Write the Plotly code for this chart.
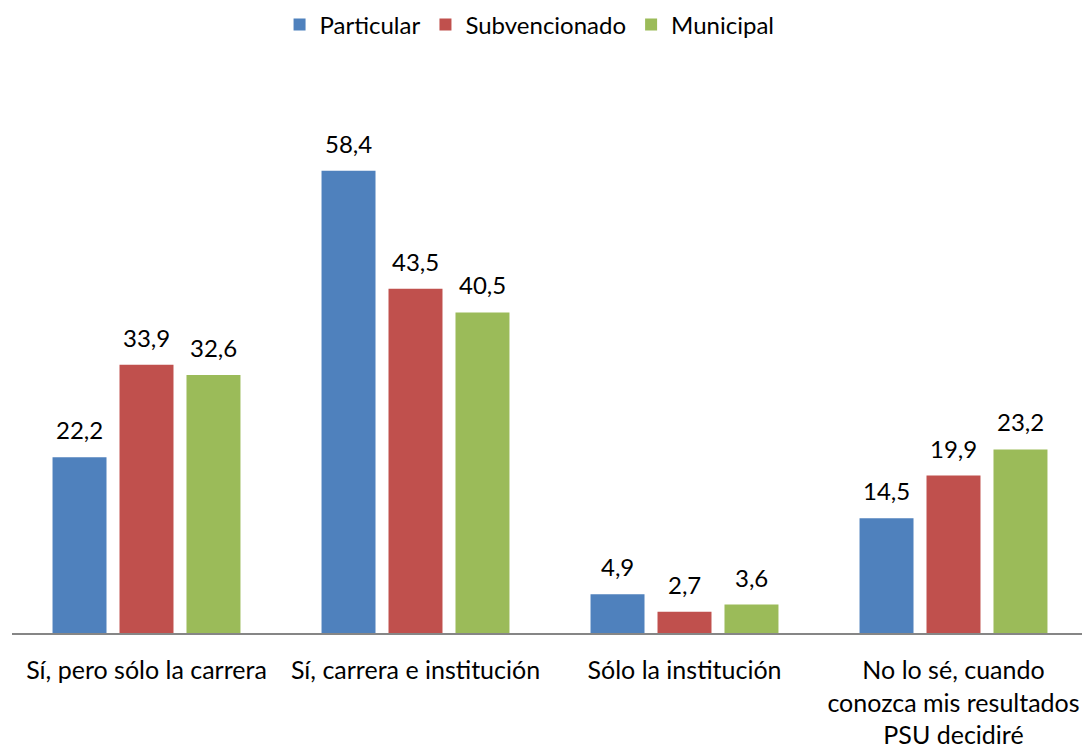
import plotly.graph_objects as go

categories = ["Sí, pero sólo la carrera", "Sí, carrera e institución", "Sólo la institución",
              "No lo sé, cuando<br>conozca mis resultados<br>PSU decidiré"]
series_names = ["Particular", "Subvencionado", "Municipal"]
particular = [22.2, 58.4, 4.9, 14.5]
subvencionado = [33.9, 43.5, 2.7, 19.9]
municipal = [32.6, 40.5, 3.6, 23.2]
colors = ["#4F81BD", "#C0504D", "#9BBB59"]

FONT = "Lato"
# page body has an 8px margin, so the figure is sized/offset accordingly
W, H = 1082, 741
ML, MR, MT, MB = 4, 2, 71, 116
BARGAP, BARGROUPGAP = 0.253, 0.194

fig = go.Figure()
all_series = [particular, subvencionado, municipal]
for name, vals, col in zip(series_names, all_series, colors):
    fig.add_trace(go.Bar(
        x=categories, y=vals, name=name, marker=dict(color=col, line=dict(width=0)),
        hoverinfo="x+y",
    ))

# data labels placed above each bar, offset to the bar's slot within the group
plot_w = W - ML - MR
slot_px = plot_w / len(categories) * (1 - BARGAP) / len(all_series)
annotations = []
for i, vals in enumerate(all_series):
    off = (i - (len(all_series) - 1) / 2) * slot_px
    for cat, v in zip(categories, vals):
        annotations.append(dict(
            x=cat, y=v, xref="x", yref="y", text=f"{v:.1f}".replace(".", ","),
            showarrow=False, xanchor="center", yanchor="bottom", xshift=off, yshift=11,
            font=dict(family=FONT, size=24, color="#000000"),
        ))

fig.update_layout(
    width=W, height=H,
    margin=dict(l=ML, r=MR, t=MT, b=MB, autoexpand=False),
    paper_bgcolor="white", plot_bgcolor="white",
    barmode="group", bargap=BARGAP, bargroupgap=BARGROUPGAP,
    font=dict(family=FONT, size=24, color="#000000"),
    showlegend=True,
    legend=dict(orientation="h", x=0.481, xanchor="center", y=1.0975, yanchor="middle",
                font=dict(family=FONT, size=24, color="#000000"), itemwidth=30,
                traceorder="normal", bgcolor="rgba(0,0,0,0)"),
    xaxis=dict(showline=True, linecolor="#868686", linewidth=2,
               ticks="outside", ticklen=14, tickcolor="rgba(0,0,0,0)",
               tickfont=dict(family=FONT, size=25, color="#000000"),
               showgrid=False, automargin=False),
    yaxis=dict(range=[0, 70], visible=False, showgrid=False, zeroline=False, automargin=False),
    annotations=annotations,
)
fig.write_html("out.html")
